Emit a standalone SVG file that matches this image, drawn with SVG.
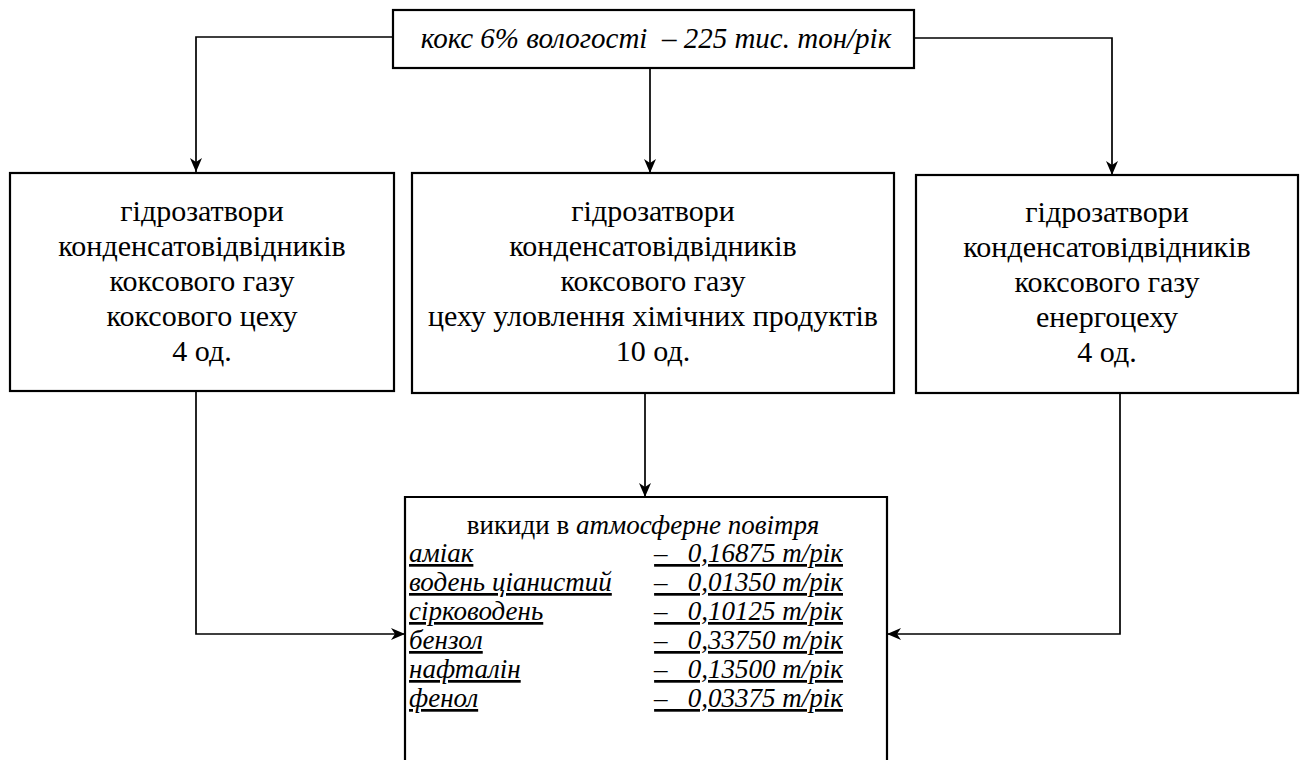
<svg xmlns="http://www.w3.org/2000/svg" width="1303" height="760" viewBox="0 0 1303 760">
<defs>
<marker id="arr" viewBox="0 0 14 12" refX="14" refY="6" markerWidth="14" markerHeight="12" markerUnits="userSpaceOnUse" orient="auto">
<path d="M0,0 L14,6 L0,12 L4,6 z" fill="#000"/>
</marker>
<style>
.box{fill:#fff;stroke:#000;stroke-width:2.2}
.ln{fill:none;stroke:#000;stroke-width:1.7}
text{font-family:"Liberation Serif","Times New Roman",serif;fill:#000}
.t{font-size:30px;text-anchor:middle}
.top{font-size:29px;font-style:italic;text-anchor:middle}
.e{font-size:27px;font-style:italic;text-decoration:underline}
.h{font-size:27px;text-anchor:middle}
</style>
</defs>
<rect width="1303" height="760" fill="#fff"/>
<g id="connectors">
<path class="ln" d="M393,37 H196 V172" marker-end="url(#arr)"/>
<path class="ln" d="M650,68 V173" marker-end="url(#arr)"/>
<path class="ln" d="M914,38 H1112 V175" marker-end="url(#arr)"/>
<path class="ln" d="M645,393 V497" marker-end="url(#arr)"/>
<path class="ln" d="M196,391 V634 H405" marker-end="url(#arr)"/>
<path class="ln" d="M1120,393 V634 H887" marker-end="url(#arr)"/>
</g>
<g id="source">
<rect class="box" x="393" y="10" width="521" height="58"/>
<text class="top" x="656" y="48" xml:space="preserve">кокс 6% вологості  – 225 тис. тон/рік</text>
</g>
<g id="coke-shop">
<rect class="box" x="10" y="173" width="384" height="218"/>
<text class="t" x="202" y="221">гідрозатвори</text>
<text class="t" x="202" y="256">конденсатовідвідників</text>
<text class="t" x="202" y="291">коксового газу</text>
<text class="t" x="202" y="326">коксового цеху</text>
<text class="t" x="202" y="361">4 од.</text>
</g>
<g id="chem-shop">
<rect class="box" x="412" y="173" width="482" height="220"/>
<text class="t" x="653" y="221">гідрозатвори</text>
<text class="t" x="653" y="256">конденсатовідвідників</text>
<text class="t" x="653" y="291">коксового газу</text>
<text class="t" x="653" y="326">цеху уловлення хімічних продуктів</text>
<text class="t" x="653" y="361">10 од.</text>
</g>
<g id="energy-shop">
<rect class="box" x="916" y="175" width="382" height="218"/>
<text class="t" x="1107" y="222">гідрозатвори</text>
<text class="t" x="1107" y="257">конденсатовідвідників</text>
<text class="t" x="1107" y="292">коксового газу</text>
<text class="t" x="1107" y="327">енергоцеху</text>
<text class="t" x="1107" y="362">4 од.</text>
</g>
<g id="emissions">
<path class="box" d="M405,762 V497 H887 V762"/>
<text class="h" x="643" y="534">викиди в <tspan font-style="italic">атмосферне повітря</tspan></text>
<text class="e" x="409" y="562">аміак</text>
<text class="e" x="409" y="591">водень ціанистий</text>
<text class="e" x="409" y="620">сірководень</text>
<text class="e" x="409" y="649">бензол</text>
<text class="e" x="409" y="678">нафталін</text>
<text class="e" x="409" y="707">фенол</text>
<text class="e" x="843" y="562" text-anchor="end" xml:space="preserve">–   0,16875 т/рік</text>
<text class="e" x="843" y="591" text-anchor="end" xml:space="preserve">–   0,01350 т/рік</text>
<text class="e" x="843" y="620" text-anchor="end" xml:space="preserve">–   0,10125 т/рік</text>
<text class="e" x="843" y="649" text-anchor="end" xml:space="preserve">–   0,33750 т/рік</text>
<text class="e" x="843" y="678" text-anchor="end" xml:space="preserve">–   0,13500 т/рік</text>
<text class="e" x="843" y="707" text-anchor="end" xml:space="preserve">–   0,03375 т/рік</text>
</g>
</svg>
